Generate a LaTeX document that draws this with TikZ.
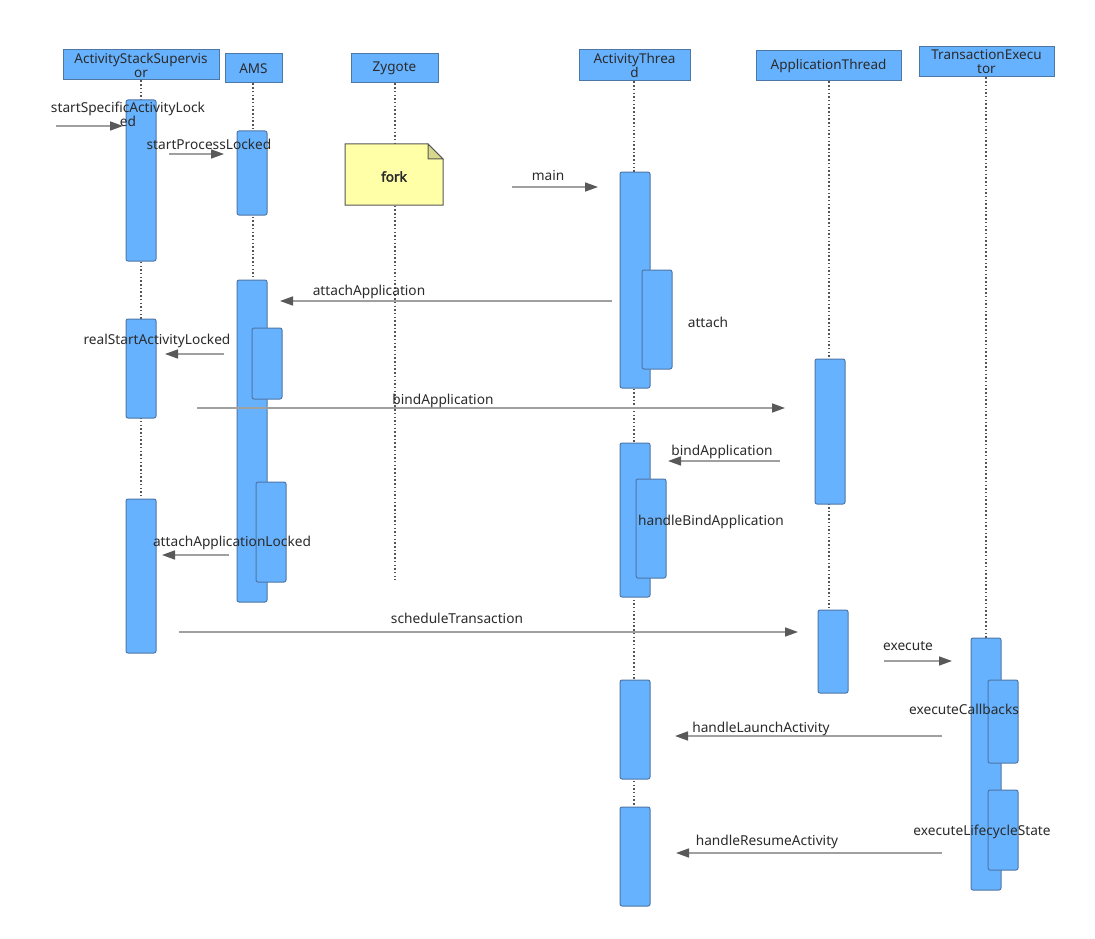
\documentclass[tikz,border=0pt]{standalone}
\usepackage{fontspec}
\setmainfont{Noto Sans}
\newfontfamily\forkfont{Noto Sans}[FakeBold=2.5]
\usetikzlibrary{arrows.meta}
\definecolor{barblue}{HTML}{66B2FF}
\definecolor{barline}{HTML}{4F77A6}
\definecolor{msgline}{HTML}{A0A0A0}
\definecolor{tipgray}{HTML}{595959}
\definecolor{lifegray}{HTML}{555555}
\definecolor{txt}{HTML}{2B2B2B}
\definecolor{noteyellow}{HTML}{FFFFA8}
\definecolor{notefold}{HTML}{D8D88C}
\tikzset{
  hdr/.style={draw=barline, line width=1pt, fill=barblue, inner sep=0pt, text=txt, font=\fontsize{13.5}{15}\selectfont, align=center},
  bar/.style={draw=barline, line width=1pt, fill=barblue, rounded corners=2pt, minimum width=30pt, inner sep=0pt},
  life/.style={draw=lifegray, line width=1.5pt, dash pattern=on 1.5pt off 2.2pt},
  msg/.style={draw=msgline, line width=1.6pt, -{Triangle[length=13pt,width=9pt,fill=tipgray,color=tipgray]}},
  lbl/.style={text=txt, font=\fontsize{13.7}{15}\selectfont, inner sep=0pt, align=center, yshift=-1.5pt},
}
\newcommand{\barnode}[5]{% name, x1, y1, x2, y2
  \node[bar, minimum width={(#4-#2)*1pt}, minimum height={(#5-#3)*1pt}] (#1) at ({(#2+#4)/2},{(#3+#5)/2}) {};}
\begin{document}
\begin{tikzpicture}[x=1pt,y=-1pt]
\useasboundingbox[fill=white] (0,0) rectangle (1095,939);
% headers
\node[hdr, minimum width=156pt, minimum height=30pt] (hASS) at (141,65) {ActivityStackSupervis\\[-1pt]or};
\node[hdr, minimum width=57pt, minimum height=29pt] (hAMS) at (253.5,68.5) {AMS};
\node[hdr, minimum width=87pt, minimum height=29pt] (hZY) at (394.5,68.5) {Zygote};
\node[hdr, minimum width=111pt, minimum height=31pt] (hAT) at (634.5,65.5) {ActivityThrea\\[-1pt]d};
\node[hdr, minimum width=145pt, minimum height=30pt] (hAPT) at (828.5,66) {ApplicationThread};
\node[hdr, minimum width=135pt, minimum height=30pt] (hTE) at (986.5,62) {TransactionExecu\\[-1pt]tor};
% lifeline ends
\coordinate (eASS) at (141,653);
\coordinate (eAMS) at (253,280);
\coordinate (eZY) at (395,580);
\coordinate (eAT) at (634,807);
\coordinate (eAPT) at (829,610);
\coordinate (eTE) at (986,638);
\draw[life] (hASS.south -| eASS) -- (eASS);
\draw[life] (hAMS.south -| eAMS) -- (eAMS);
\draw[life] (hZY.south -| eZY) -- (eZY);
\draw[life] (hAT.south -| eAT) -- (eAT);
\draw[life] (hAPT.south -| eAPT) -- (eAPT);
\draw[life] (hTE.south -| eTE) -- (eTE);
% fork note
\path[draw=lifegray, line width=1pt, fill=noteyellow] (345,144) -- (428,144) -- (443,159) -- (443,205) -- (345,205) -- cycle;
\path[draw=lifegray, line width=1pt, fill=notefold] (428,144) -- (428,159) -- (443,159) -- cycle;
\node[lbl, font=\fontsize{13.5}{15}\selectfont\forkfont] (fork) at (394,175) {fork};
% activation bars
\barnode{s1}{126}{100}{156}{261}
\barnode{s2}{126}{319}{156}{418}
\barnode{s3}{126}{499}{156}{653}
\barnode{m1}{237}{131}{267}{215}
\barnode{m2}{237}{280}{267}{602}
\barnode{m2a}{252}{328}{282}{399}
\barnode{m2b}{256}{482}{286}{582}
\barnode{t1}{620}{172}{650}{388}
\barnode{t1a}{642}{270}{672}{369}
\barnode{t2}{620}{443}{650}{597}
\barnode{t2a}{636}{479}{666}{578}
\barnode{t3}{620}{680}{650}{779}
\barnode{t4}{620}{807}{650}{906}
\barnode{p1}{815}{359}{845}{504}
\barnode{p2}{818}{610}{848}{693}
\barnode{x1}{971}{638}{1001}{890}
\barnode{x1a}{988}{680}{1018}{763}
\barnode{x1b}{988}{790}{1018}{870}
% message end points
\coordinate (a1s) at (56,126);   \coordinate (a1e) at (123,126);
\coordinate (a2s) at (169,154);  \coordinate (a2e) at (224,154);
\coordinate (a3s) at (512,187);  \coordinate (a3e) at (598,187);
\coordinate (a4s) at (612,301);  \coordinate (a4e) at (280,301);
\coordinate (a5s) at (224,354);  \coordinate (a5e) at (165,354);
\coordinate (a6s) at (197,408);  \coordinate (a6e) at (785,408);
\coordinate (a7s) at (780,461);  \coordinate (a7e) at (668,461);
\coordinate (a8s) at (229,555);  \coordinate (a8e) at (162,555);
\coordinate (a9s) at (179,632);  \coordinate (a9e) at (798,632);
\coordinate (a10s) at (884,661); \coordinate (a10e) at (952,661);
\coordinate (a11s) at (942,736); \coordinate (a11e) at (675,736);
\coordinate (a12s) at (942,853); \coordinate (a12e) at (676,853);
\draw[msg] (a1s) -- (a1e);
\draw[msg] (a2s) -- (a2e);
\draw[msg] (a3s) -- (a3e);
\draw[msg] (a4s) -- (a4e);
\draw[msg] (a5s) -- (a5e);
\draw[msg] (a6s) -- (a6e);
\draw[msg] (a7s) -- (a7e);
\draw[msg] (a8s) -- (a8e);
\draw[msg] (a9s) -- (a9e);
\draw[msg] (a10s) -- (a10e);
\draw[msg] (a11s) -- (a11e);
\draw[msg] (a12s) -- (a12e);
% labels
\node[lbl] (l1) at (128,113) {startSpecificActivityLock\\[-1pt]ed};
\node[lbl] (l2) at (209,143) {startProcessLocked};
\node[lbl] (l3) at (548,174) {main};
\node[lbl] (l4) at (369,290) {attachApplication};
\node[lbl] (l5) at (157,339) {realStartActivityLocked};
\node[lbl] (l6) at (443,399) {bindApplication};
\node[lbl] (l7) at (722,450) {bindApplication};
\node[lbl] (l8) at (232,541) {attachApplicationLocked};
\node[lbl] (l9) at (457,617) {scheduleTransaction};
\node[lbl] (l10) at (908,645) {execute};
\node[lbl] (l11) at (761,727) {handleLaunchActivity};
\node[lbl] (l12) at (767,840) {handleResumeActivity};
\node[lbl] (l13) at (708,321) {attach};
\node[lbl] (l14) at (711,520) {handleBindApplication};
\node[lbl] (l15) at (964,708) {executeCallbacks};
\node[lbl] (l16) at (982,830) {executeLifecycleState};
\end{tikzpicture}
\end{document}
